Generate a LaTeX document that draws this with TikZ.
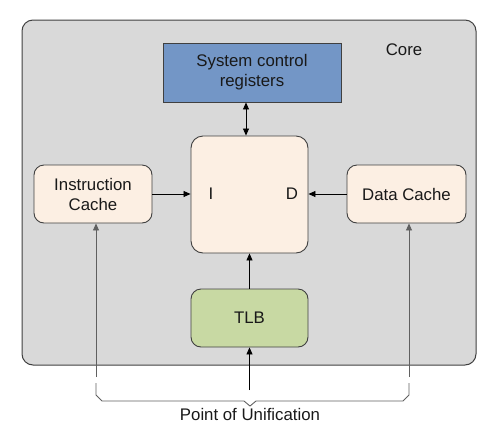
\documentclass[tikz,border=0pt]{standalone}
\usepackage{fontspec}
\setmainfont{Liberation Sans}
\usepackage{tikz}
\usetikzlibrary{calc,positioning,arrows.meta}
\definecolor{coregray}{HTML}{D9D9D9}
\definecolor{regblue}{HTML}{7396C6}
\definecolor{cachecream}{HTML}{FCEFE3}
\definecolor{tlbgreen}{HTML}{C8D9A3}
\definecolor{edgegray}{HTML}{404040}
\definecolor{wiregray}{HTML}{606060}

\begin{document}
\begin{tikzpicture}[x=1pt, y=-1pt,
    every node/.style={font=\fontsize{16.8}{20}\selectfont, text=black!90},
    unitbox/.style={draw=edgegray, line width=0.9pt, rounded corners=10pt, fill=cachecream, align=center, inner sep=0pt},
    arr/.style={-{Triangle[length=7pt,width=6pt]}, line width=0.8pt, black}]
  \useasboundingbox (0,0) rectangle (496,424);
  \node[draw=edgegray, line width=1pt, rounded corners=11pt, fill=coregray, minimum width=454pt, minimum height=345pt] (core) at (249,192.5) {};
  \node (corelbl) at (404,50) {Core};
  \node[draw=edgegray, line width=0.9pt, fill=regblue, minimum width=178pt, minimum height=59pt, align=center, inner sep=0pt] (scr) at (252,72.5) {System control\\registers};
  \node[unitbox, rounded corners=12pt, minimum width=117pt, minimum height=117pt] (iu) at (249.5,194.5) {};
  \node (ilbl) at (211,194) {I};
  \node (dlbl) at (292,194) {D};
  \node[unitbox, minimum width=118pt, minimum height=58pt] (icache) at (93,194) {Instruction\\Cache};
  \node[unitbox, minimum width=119pt, minimum height=58pt] (dcache) at (406.5,194) {Data Cache};
  \node[unitbox, fill=tlbgreen, minimum width=117pt, minimum height=58pt] (tlb) at (249.5,318) {TLB};
  \coordinate (pl) at (96,377);
  \coordinate (pr) at (409,377);
  \coordinate (pou) at (249.5,390);
  \draw[arr, {Triangle[length=7pt,width=6pt]}-{Triangle[length=7pt,width=6pt]}] (scr.south -| 246,0) -- (iu.north -| 246,0);
  \draw[arr] (icache.east) -- (icache.east -| iu.west);
  \draw[arr] (dcache.west) -- (dcache.west -| iu.east);
  \draw[arr] (tlb.north) -- (iu.south);
  \draw[arr] (pou) -- (tlb.south);
  \draw[arr, wiregray] (pl) -- (icache.south -| pl);
  \draw[arr, wiregray] (pr) -- (dcache.south -| pr);
  % brace under the core
  \draw[wiregray, line width=0.9pt] (96,383) -- (96,395) -- (102,401) -- (244,401) -- (250,406) -- (256,401) -- (403,401) -- (409,395) -- (409,383);
  \node (poulbl) at (250,414) {Point of Unification};
\end{tikzpicture}
\end{document}
